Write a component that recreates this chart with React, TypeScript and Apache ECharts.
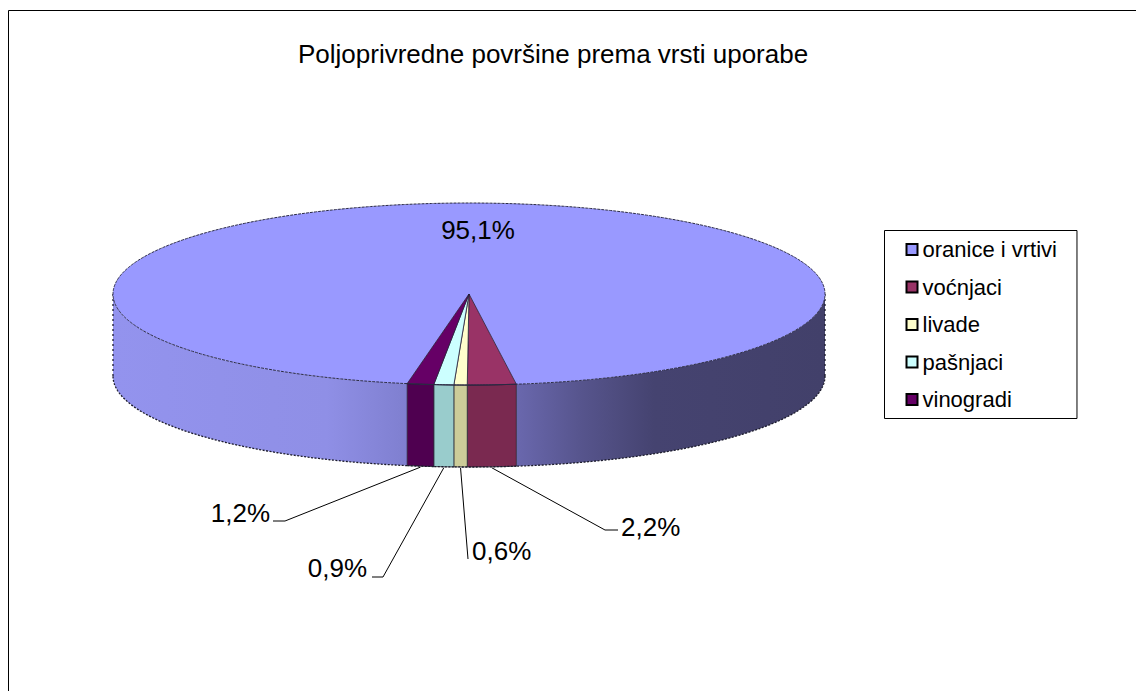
import React, { useEffect, useRef } from "react";
import * as echarts from "echarts";

const TITLE = "Poljoprivredne površine prema vrsti uporabe";
const categories = ["oranice i vrtivi", "voćnjaci", "livade", "pašnjaci", "vinogradi"];
const shares = [95.1, 2.2, 0.6, 0.9, 1.2];
const topColors = ["#9999ff", "#993366", "#ffffcc", "#ccffff", "#660066"];
const sideColors = ["#8f8fe8", "#7a2950", "#cccc99", "#99cccc", "#4f0050"];

const FONT = "'Liberation Sans', Arial, sans-serif";
const CX = 469;
const CY = 294;
const RX = 356;
const RY = 91;
const DEPTH = 82;
const FIRST_ANGLE = 190;

const total = shares.reduce((a, b) => a + b, 0);

function pt(deg: number, dy = 0): [number, number] {
  const r = (deg * Math.PI) / 180;
  return [CX + RX * Math.sin(r), CY - RY * Math.cos(r) + dy];
}
function arc(from: number, to: number, dy = 0): [number, number][] {
  const n = Math.max(2, Math.ceil(Math.abs(to - from) / 0.5));
  const out: [number, number][] = [];
  for (let i = 0; i <= n; i++) out.push(pt(from + ((to - from) * i) / n, dy));
  return out;
}

// label placement per slice: anchor of the text, elbow and end of the leader
const labelLayout: any[] = [
  { x: 478, y: 230, align: "center" },
  { x: 621, y: 527, align: "left", elbow: [605, 530], end: [618, 530] },
  { x: 472, y: 551, align: "left", elbow: [468, 559], end: null },
  { x: 367, y: 568, align: "right", elbow: [383, 577], end: [372, 577] },
  { x: 270, y: 513, align: "right", elbow: [285, 521], end: [273, 521] },
];

function sideGradient() {
  return new echarts.graphic.LinearGradient(
    CX - RX, 0, CX + RX, 0,
    [
      { offset: 0, color: "#9393ee" },
      { offset: 0.3, color: "#8f8fe6" },
      { offset: 0.4, color: "#8181d2" },
      { offset: 0.56, color: "#6b69b0" },
      { offset: 0.66, color: "#56548c" },
      { offset: 0.76, color: "#454370" },
      { offset: 1, color: "#42406a" },
    ],
    true
  );
}

function renderSlice(index: number) {
  return (_params: any, api: any) => {
    const value = api.value(0);
    const before = shares.slice(0, index).reduce((a, b) => a + b, 0);
    const start = FIRST_ANGLE + (before / total) * 360;
    const end = start + (value / total) * 360;
    const mid = (start + end) / 2;
    const children: any[] = [];

    // front wall: only the part of the slice between 90° and 270° is visible
    const ranges: [number, number][] = [];
    for (const k of [0, 360]) {
      const a = Math.max(start, 90 + k);
      const b = Math.min(end, 270 + k);
      if (b > a) ranges.push([a, b]);
    }
    const fill = index === 0 ? sideGradient() : sideColors[index];
    for (const [a, b] of ranges) {
      const pts = [...arc(a, b), ...arc(b, a, DEPTH)];
      children.push({
        type: "polygon",
        shape: { points: pts },
        style: { fill, stroke: index === 0 ? null : "#1a1a2a", lineWidth: 0.7 },
      });
      children.push({
        type: "polyline",
        shape: { points: arc(a, b, DEPTH) },
        style: { fill: null, stroke: "#1c1c2c", lineWidth: 1.3, lineDash: [2, 1.5] },
      });
    }
    // silhouette edges at the far left and right of the wall
    if (index === 0) {
      for (const deg of [90, 270]) {
        children.push({
          type: "polyline",
          shape: { points: [pt(deg), pt(deg, DEPTH)] },
          style: { fill: null, stroke: "#1c1c2c", lineWidth: 1.3, lineDash: [2, 3] },
        });
      }
    }

    // top face
    children.push({
      type: "polygon",
      shape: { points: [[CX, CY], ...arc(start, end)] },
      style: {
        fill: topColors[index],
        stroke: index === 0 ? null : "#26203a",
        lineWidth: 0.8,
      },
    });
    children.push({
      type: "polyline",
      shape: { points: arc(start, end) },
      style: { fill: null, stroke: "#2a2a44", lineWidth: 1, lineDash: index === 0 ? [3, 1] : null },
    });

    // label + leader
    const l = labelLayout[index];
    if (l.elbow) {
      const s = pt(mid, DEPTH + 1);
      const pts = l.end ? [s, l.elbow, l.end] : [s, l.elbow];
      children.push({
        type: "polyline",
        shape: { points: pts },
        style: { fill: null, stroke: "#000", lineWidth: 1 },
        z2: 5,
      });
    }
    children.push({
      type: "text",
      z2: 10,
      style: {
        x: l.x,
        y: l.y,
        text: value.toFixed(1).replace(".", ",") + "%",
        align: l.align,
        verticalAlign: "middle",
        fontFamily: FONT,
        fontSize: 26,
        fill: "#000",
      },
    });
    return { type: "group", children };
  };
}

export default function App() {
  const ref = useRef<HTMLDivElement>(null);
  useEffect(() => {
    document.body.style.margin = "0";
    const chart = echarts.init(ref.current!, null, { renderer: "svg" });
    chart.setOption({
      animation: false,
      backgroundColor: "#fff",
      title: {
        text: TITLE,
        left: 298,
        top: 41,
        padding: 0,
        textStyle: { fontFamily: FONT, fontSize: 26, fontWeight: "normal", color: "#000" },
      },
      legend: {
        orient: "vertical",
        left: 884.5,
        top: 230.5,
        padding: [8, 20, 8, 21],
        itemGap: 15.5,
        itemWidth: 11,
        itemHeight: 11,
        itemStyle: { borderColor: "#000", borderWidth: 2 },
        icon: "rect",
        selectedMode: false,
        borderColor: "#000",
        borderWidth: 1,
        backgroundColor: "#fff",
        textStyle: { fontFamily: FONT, fontSize: 22, color: "#000", lineHeight: 21 },
        data: categories,
      },
      graphic: [
        {
          type: "polyline",
          silent: true,
          z: -1,
          shape: { points: [[8.5, 700], [8.5, 10.5], [1136, 10.5]] },
          style: { fill: null, stroke: "#000", lineWidth: 1 },
        },
      ],
      series: categories.map((name, i) => ({
        type: "custom",
        name,
        coordinateSystem: "none",
        silent: true,
        z: 2,
        itemStyle: { color: topColors[i] },
        data: [[shares[i]]],
        renderItem: renderSlice(i),
      })),
    });
    return () => chart.dispose();
  }, []);
  return <div ref={ref} style={{ width: 1136, height: 691, overflow: "hidden" }} />;
}
